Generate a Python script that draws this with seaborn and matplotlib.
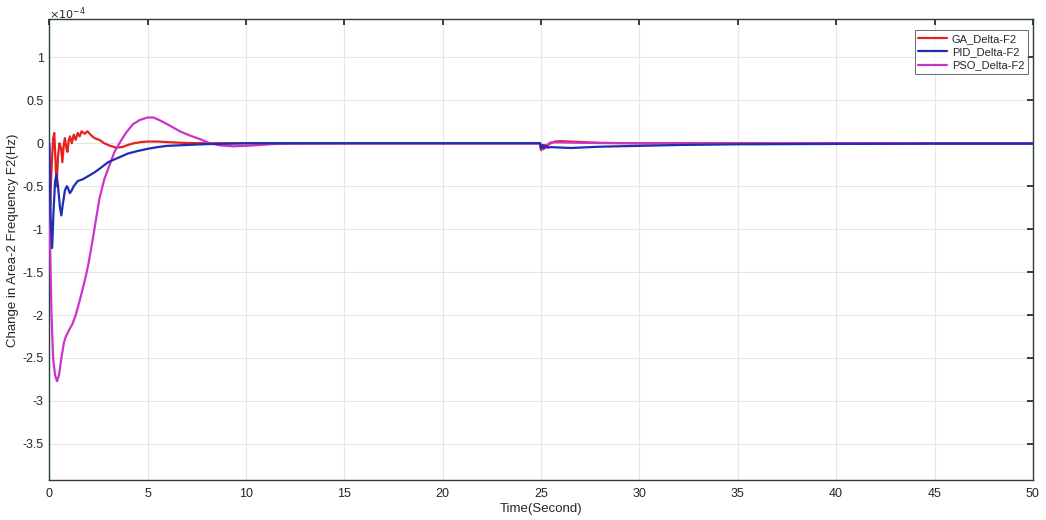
import matplotlib
matplotlib.use("Agg")
import matplotlib.pyplot as plt
import seaborn as sns
import numpy as np

# Frequency deviation of area 2 (values in units of 1e-4 Hz)
ga_t = [0, 0.05, 0.12, 0.2, 0.26, 0.32, 0.38, 0.45, 0.52, 0.6, 0.67, 0.74, 0.8, 0.87,
        0.93, 1.0, 1.06, 1.15, 1.25, 1.35, 1.45, 1.55, 1.65, 1.8, 1.95, 2.1, 2.3, 2.55,
        2.8, 3.1, 3.4, 3.7, 4.0, 4.3, 4.7, 5.0, 5.5, 6.3, 7.0, 8.0, 10, 15, 20, 24.95,
        25.0, 25.05, 25.12, 25.2, 25.3, 25.4, 25.5, 25.7, 26.0, 26.5, 27, 27.5, 28, 29,
        30, 35, 40, 50]
ga_v = [0, -0.72, -0.3, 0.05, 0.12, -0.2, -0.5, -0.15, 0.0, -0.05, -0.22, -0.02, 0.06,
        -0.05, -0.1, 0.04, 0.08, 0.0, 0.1, 0.04, 0.12, 0.08, 0.14, 0.11, 0.14, 0.1, 0.06,
        0.04, 0.0, -0.03, -0.05, -0.045, -0.02, 0.0, 0.015, 0.02, 0.02, 0.01, 0.003, 0,
        0, 0, 0, 0, -0.08, -0.03, -0.07, -0.02, -0.05, -0.01, 0.0, 0.02, 0.025, 0.02,
        0.015, 0.01, 0.005, 0.002, 0, 0, 0, 0]

pid_t = [0, 0.08, 0.15, 0.22, 0.3, 0.37, 0.45, 0.55, 0.62, 0.7, 0.8, 0.9, 0.97, 1.05,
         1.12, 1.25, 1.45, 1.7, 2.0, 2.3, 2.6, 3.0, 3.5, 4.0, 4.5, 5.0, 5.5, 6.0, 7.0,
         8.0, 9, 10, 12, 15, 20, 24.95, 25.0, 25.08, 25.15, 25.25, 25.35, 25.5, 26.0,
         26.5, 27, 28, 29, 30, 32, 35, 40, 45, 50]
pid_v = [0, -0.9, -1.22, -0.8, -0.45, -0.36, -0.5, -0.75, -0.84, -0.7, -0.55, -0.5,
         -0.53, -0.58, -0.56, -0.5, -0.44, -0.42, -0.38, -0.34, -0.29, -0.22, -0.17,
         -0.12, -0.09, -0.065, -0.045, -0.03, -0.02, -0.01, -0.005, 0, 0, 0, 0, 0,
         -0.06, -0.02, -0.05, -0.03, -0.05, -0.045, -0.05, -0.055, -0.05, -0.04,
         -0.035, -0.03, -0.02, -0.012, -0.008, -0.005, -0.005]

pso_t = [0, 0.05, 0.12, 0.2, 0.3, 0.4, 0.5, 0.62, 0.75, 0.85, 1.0, 1.19, 1.35, 1.53,
         1.7, 1.87, 2.0, 2.13, 2.3, 2.55, 2.8, 3.06, 3.32, 3.57, 3.9, 4.25, 4.6, 5.0,
         5.3, 5.6, 6.1, 6.63, 7.15, 7.65, 8.16, 8.7, 9.35, 10.0, 10.7, 11.3, 12, 15, 20,
         24.95, 25.0, 25.1, 25.2, 25.35, 25.5, 26, 27, 28, 30, 35, 40, 50]
pso_v = [0, -1.2, -2.0, -2.5, -2.7, -2.77, -2.7, -2.5, -2.32, -2.25, -2.18, -2.1, -2.0,
         -1.85, -1.7, -1.54, -1.4, -1.23, -1.0, -0.65, -0.42, -0.26, -0.1, 0.0, 0.12,
         0.22, 0.27, 0.30, 0.30, 0.27, 0.21, 0.14, 0.09, 0.05, 0.0, -0.025, -0.035,
         -0.03, -0.02, -0.01, -0.005, 0, 0, 0, -0.07, -0.02, -0.06, -0.01, 0.01, 0.01,
         0.005, 0.003, 0, 0, 0, 0]

x_ticks = [0, 5, 10, 15, 20, 25, 30, 35, 40, 45, 50]
y_ticks = [-3.5, -3, -2.5, -2, -1.5, -1, -0.5, 0, 0.5, 1]
y_tick_labels = ["-3.5", "-3", "-2.5", "-2", "-1.5", "-1", "-0.5", "0", "0.5", "1"]

sns.set_theme(style="whitegrid")
plt.rcParams["font.family"] = ["Liberation Sans", "DejaVu Sans"]

fig = plt.figure(figsize=(10.46, 5.2), dpi=100)
ax = fig.add_axes([0.047, 0.077, 0.9405, 0.887])

sns.lineplot(x=ga_t, y=ga_v, ax=ax, color="#e5231c", lw=1.6, label="GA_Delta-F2", zorder=2)
sns.lineplot(x=pid_t, y=pid_v, ax=ax, color="#1e2db4", lw=1.6, label="PID_Delta-F2", zorder=4)
sns.lineplot(x=pso_t, y=pso_v, ax=ax, color="#cc33cc", lw=1.6, label="PSO_Delta-F2", zorder=3)

ax.set_xlim(0, 50)
ax.set_ylim(-3.92, 1.45)
ax.set_xticks(x_ticks)
ax.set_xticklabels([str(v) for v in x_ticks])
ax.set_yticks(y_ticks)
ax.set_yticklabels(y_tick_labels)
ax.tick_params(axis="both", labelsize=9, colors="#262626", length=4, direction="in")
ax.tick_params(axis="y", pad=4)
ax.tick_params(axis="x", pad=6)
ax.tick_params(axis="both", which="both", top=True, right=True)
ax.grid(True, color="#e6e6e6", lw=0.8)
ax.set_facecolor("white")
for s in ax.spines.values():
    s.set_color("#26403a")
    s.set_linewidth(1.0)

ax.set_xlabel("Time(Second)", fontsize=9.5, color="#262626", labelpad=2)
ax.set_ylabel("Change in Area-2 Frequency F2(Hz)", fontsize=9.5, color="#262626")
ax.yaxis.set_label_coords(-0.0305, 0.52)
ax.text(0.0, 0.992, r"$\times10^{-4}$", transform=ax.transAxes, fontsize=8,
        color="#262626", ha="left", va="bottom")

leg = ax.legend(loc="upper right", bbox_to_anchor=(0.9985, 0.983), fontsize=8,
                frameon=True, fancybox=False, handlelength=2.6, borderpad=0.35,
                labelspacing=0.3, handletextpad=0.4, borderaxespad=0.3)
leg.get_frame().set_edgecolor("#262626")
leg.get_frame().set_linewidth(0.6)

fig.savefig("out.png", dpi=100, facecolor="white")
